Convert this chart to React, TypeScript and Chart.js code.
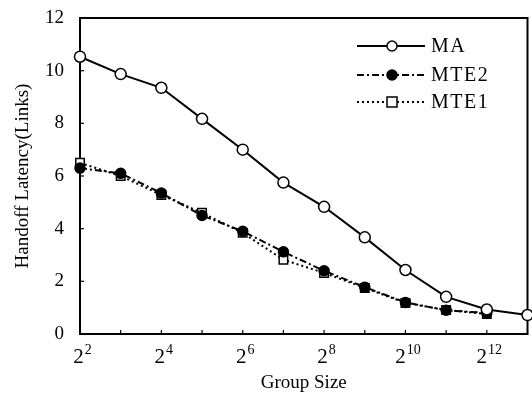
import React, { useEffect, useRef } from 'react';
import { Chart, registerables } from 'chart.js';
Chart.register(...registerables);

const exponents = [2, 3, 4, 5, 6, 7, 8, 9, 10, 11, 12, 13];
const maValues = [10.53, 9.87, 9.35, 8.17, 7.0, 5.75, 4.83, 3.67, 2.43, 1.41, 0.93, 0.72];
const mte2Values = [6.3, 6.1, 5.35, 4.5, 3.9, 3.12, 2.4, 1.78, 1.2, 0.9, 0.8];
const mte1Values = [6.5, 6.0, 5.28, 4.6, 3.84, 2.82, 2.32, 1.75, 1.18, 0.91, 0.76];
const xLabelExponents = [2, 4, 6, 8, 10, 12];
const seriesNames = ['MA', 'MTE2', 'MTE1'];

const FONT = '"Liberation Serif", "Times New Roman", serif';

const pts = (vals: number[]) => vals.map((v, i) => ({ x: exponents[i], y: v }));

const framePlugin = {
  id: 'frame',
  beforeDatasetsDraw(chart: any) {
    const { ctx, chartArea: a, scales } = chart;
    ctx.save();
    ctx.strokeStyle = '#000';
    ctx.lineWidth = 2;
    ctx.strokeRect(a.left, a.top, a.right - a.left, a.bottom - a.top);
    ctx.lineWidth = 1.2;
    for (let v = 0; v <= 12; v += 2) {
      const y = scales.y.getPixelForValue(v);
      ctx.beginPath();
      ctx.moveTo(a.left, y);
      ctx.lineTo(a.left + 4, y);
      ctx.stroke();
    }
    for (const e of exponents) {
      const x = scales.x.getPixelForValue(e);
      ctx.beginPath();
      ctx.moveTo(x, a.bottom);
      ctx.lineTo(x, a.bottom - 4);
      ctx.stroke();
    }
    ctx.fillStyle = '#000';
    ctx.textBaseline = 'alphabetic';
    for (const e of xLabelExponents) {
      const x = scales.x.getPixelForValue(e);
      ctx.font = `21px ${FONT}`;
      const bw = ctx.measureText('2').width;
      ctx.font = `14px ${FONT}`;
      const sw = ctx.measureText(String(e)).width;
      const start = x - (bw + sw) / 2 + 2;
      ctx.font = `21px ${FONT}`;
      ctx.textAlign = 'left';
      ctx.fillText('2', start, a.bottom + 29);
      ctx.font = `14px ${FONT}`;
      ctx.fillText(String(e), start + bw + 1, a.bottom + 20);
    }
    ctx.restore();
  },
  afterDatasetsDraw(chart: any) {
    const { ctx } = chart;
    const rows = [46, 75, 102];
    const lx0 = 357, lx1 = 425, mx = 392, tx = 431;
    ctx.save();
    chart.data.datasets.forEach((ds: any, i: number) => {
      const y = rows[i];
      ctx.strokeStyle = '#000';
      ctx.lineWidth = 2;
      ctx.setLineDash(ds.borderDash || []);
      ctx.beginPath();
      ctx.moveTo(lx0, y);
      ctx.lineTo(lx1, y);
      ctx.stroke();
      ctx.setLineDash([]);
      ctx.lineWidth = 1.5;
      ctx.fillStyle = ds.pointBackgroundColor;
      ctx.beginPath();
      if (ds.pointStyle === 'rect') {
        ctx.rect(mx - 5, y - 5, 10, 10);
      } else {
        ctx.arc(mx, y, 5, 0, Math.PI * 2);
      }
      ctx.fill();
      ctx.stroke();
      ctx.fillStyle = '#000';
      ctx.font = `20px ${FONT}`;
      try { (ctx as any).letterSpacing = '1.5px'; } catch (e) {}
      ctx.textAlign = 'left';
      ctx.textBaseline = 'middle';
      ctx.fillText(seriesNames[i], tx, y + 1);
      try { (ctx as any).letterSpacing = '0px'; } catch (e) {}
    });
    ctx.restore();
  },
};

export default function App() {
  const ref = useRef<HTMLCanvasElement>(null);
  useEffect(() => {
    const chart = new Chart(ref.current!, {
      type: 'line',
      data: {
        datasets: [
          {
            label: seriesNames[0],
            data: pts(maValues),
            borderColor: '#000',
            borderWidth: 2,
            pointStyle: 'circle',
            pointRadius: 5.5,
            pointBorderWidth: 1.5,
            pointBackgroundColor: '#fff',
            pointBorderColor: '#000',
            clip: false,
          },
          {
            label: seriesNames[1],
            data: pts(mte2Values),
            borderColor: '#000',
            borderWidth: 2,
            borderDash: [7, 3, 2, 3],
            pointStyle: 'circle',
            pointRadius: 5,
            pointBorderWidth: 1.5,
            pointBackgroundColor: '#000',
            pointBorderColor: '#000',
            clip: false,
          },
          {
            label: seriesNames[2],
            data: pts(mte1Values),
            borderColor: '#000',
            borderWidth: 2,
            borderDash: [2, 3],
            pointStyle: 'rect',
            pointRadius: 6,
            pointBorderWidth: 1.5,
            pointBackgroundColor: '#fff',
            pointBorderColor: '#000',
            clip: false,
          },
        ] as any,
      },
      options: {
        animation: false,
        responsive: false,
        layout: { padding: { top: 18, right: 2, left: 0, bottom: 0 } },
        plugins: { legend: { display: false }, tooltip: { enabled: false } },
        scales: {
          x: {
            type: 'linear',
            min: 2,
            max: 13,
            grid: { display: false },
            border: { display: false },
            ticks: { display: false, stepSize: 1 },
            title: {
              display: true,
              text: 'Group Size',
              color: '#000',
              font: { family: FONT, size: 19 },
              padding: { top: 0, bottom: 0 },
            },
            afterFit(s: any) {
              s.height = 60;
              s.paddingLeft = 0;
              s.paddingRight = 0;
              s.paddingTop = 0;
              s.paddingBottom = 0;
            },
          },
          y: {
            min: 0,
            max: 12,
            grid: { display: false },
            border: { display: false },
            ticks: {
              stepSize: 2,
              color: '#000',
              padding: 8,
              font: { family: FONT, size: 19 },
            },
            title: {
              display: true,
              text: 'Handoff Latency(Links)',
              color: '#000',
              font: { family: FONT, size: 19 },
              padding: { top: 12, bottom: 0 },
            },
            afterFit(s: any) {
              s.width = 80;
              s.paddingLeft = 0;
              s.paddingRight = 0;
              s.paddingTop = 0;
              s.paddingBottom = 0;
            },
          },
        },
      } as any,
      plugins: [framePlugin],
    });
    return () => chart.destroy();
  }, []);
  return (
    <div style={{ position: 'absolute', left: 0, top: 0, width: 532, height: 394, overflow: 'hidden', background: '#fff' }}>
      <canvas ref={ref} width={535} height={394} style={{ width: 535, height: 394, display: 'block' }} />
    </div>
  );
}
